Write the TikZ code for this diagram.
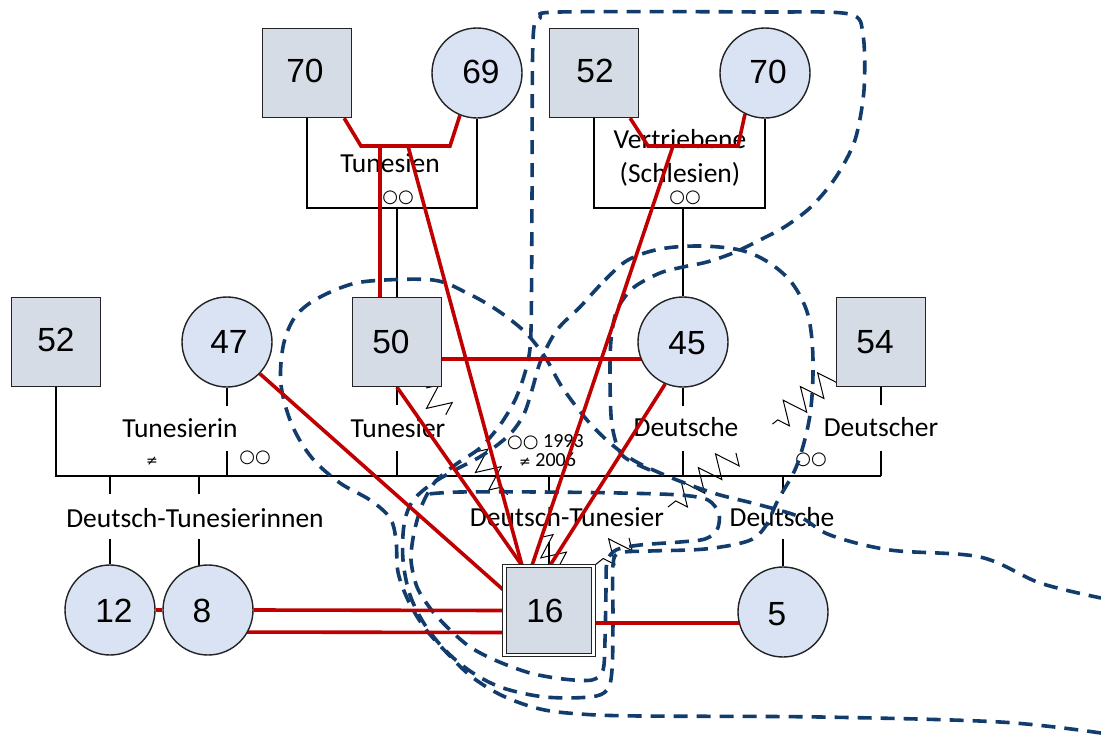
\documentclass[tikz,border=0pt]{standalone}
\usepackage{fontspec}
\setmainfont{Carlito}
\newfontfamily\numfont{Liberation Sans}
\newfontfamily\symfont{DejaVu Sans}
\usetikzlibrary{calc,decorations.pathmorphing}
\definecolor{sqfill}{RGB}{214,220,229}
\definecolor{cifill}{RGB}{218,227,243}
\definecolor{relred}{RGB}{192,0,0}
\definecolor{grpblue}{RGB}{18,60,108}
\definecolor{edgec}{RGB}{35,35,35}
\pgfdeclarelayer{bg}
\pgfsetlayers{bg,main}
\begin{document}
\begin{tikzpicture}[x=1pt,y=-1pt,
  sqbox/.style={rectangle,draw=edgec,line width=1.4pt,fill=sqfill,minimum size=89pt,inner sep=0pt},
  sqdouble/.style={rectangle,draw=edgec,line width=1pt,double=white,double distance=2.2pt,fill=sqfill,minimum size=89pt,inner sep=0pt},
  cibox/.style={circle,draw=edgec,line width=1.4pt,fill=cifill,minimum size=90pt,inner sep=0pt},
  num/.style={font=\numfont\fontsize{33.5}{38}\selectfont,inner sep=0pt},
  lbl/.style={font=\fontsize{27.5}{32}\selectfont,inner sep=0pt,anchor=base},
  sml/.style={font=\fontsize{20}{22}\selectfont,inner sep=0pt},
  rings/.style={font=\symfont\fontsize{18}{20}\selectfont,inner sep=0pt},
  neq/.style={font=\symfont\fontsize{14}{16}\selectfont,inner sep=0pt},
  kin/.style={draw=black,line width=1.4pt},
  rel/.style={draw=relred,line width=3.6pt},
  grp/.style={draw=grpblue,line width=3.6pt,dash pattern=on 14pt off 9pt},
  conflict/.style={draw=black,line width=1pt,decorate,decoration={zigzag,amplitude=12pt,segment length=22pt}}]
\useasboundingbox (0,0) rectangle (1101,736);

% ---------- persons ----------
\node[sqbox] (g70) at (307,73) {};
\node[cibox] (g69) at (477,73) {};
\node[sqbox] (g52t) at (594,73) {};
\node[cibox] (g70t) at (765,73) {};
\node[sqbox] (g52l) at (56,342) {};
\node[cibox] (g47) at (227,342) {};
\node[sqbox] (g50) at (397,342) {};
\node[cibox] (g45) at (683,342) {};
\node[sqbox] (g54) at (881,342) {};
\node[cibox] (g12) at (110,610) {};
\node[cibox] (g8) at (208,610) {};
\node[sqdouble] (g16) at (549,610.5) {};
\node[cibox] (g5) at (783,612) {};

\node[num] at (305,71) {70};
\node[num] at (481,72) {69};
\node[num] at (595,71) {52};
\node[num] at (768,72) {70};
\node[num] at (56,340) {52};
\node[num] at (229,342) {47};
\node[num] at (391,342) {50};
\node[num] at (687,343) {45};
\node[num] at (875,342) {54};
\node[num] at (114,611) {12};
\node[num] at (202,611) {8};
\node[num] at (545,611) {16};
\node[num] at (777,614) {5};

% ---------- helper coordinates ----------
\coordinate (mTy) at (0,208);
\coordinate (bar) at (0,476);
\coordinate (c8) at (199,0);
\coordinate (tA) at (361,146);
\coordinate (tB) at (450,146);
\coordinate (tC) at (380,146);
\coordinate (tD) at (408,146);
\coordinate (vA) at (648,146);
\coordinate (vB) at (738,146);
\coordinate (vC) at (673,146);
\coordinate (z1a) at (426,388);
\coordinate (z1b) at (562,566);
\coordinate (z2a) at (838,372);
\coordinate (z2b) at (595,565);

\begin{pgfonlayer}{bg}
\fill[white] (0,0) rectangle (1101,736);
% ---------- kinship lines ----------
\draw[kin] (g70.south) -- (g70.south |- mTy) -- (g69.south |- mTy) -- (g69.south);
\draw[kin] (g50.north |- mTy) -- (g50.north);
\draw[kin] (g52t.south) -- (g52t.south |- mTy) -- (g70t.south |- mTy) -- (g70t.south);
\draw[kin] (g45.north |- mTy) -- (g45.north);
\draw[kin] (g52l.south) -- (g52l.south |- bar) -- (g54.south |- bar);
\foreach \p in {g47,g50,g45,g54}{
  \draw[kin] (\p.south) -- ++(0,18);
  \draw[kin] (\p.south |- bar) -- ++(0,-25);
}
\draw[kin] (g12.north |- bar) -- ++(0,18);
\draw[kin] (g12.north) -- ++(0,-25);
\draw[kin] (c8 |- bar) -- ++(0,18);
\draw[kin] ($(c8 |- g8.north)+(0,4)$) -- ++(0,-29);
\draw[kin] (g16.north |- bar) -- ++(0,18);
\draw[kin] (g16.north) -- ++(0,-24);
\draw[kin] (g5.north |- bar) -- ++(0,18);
\draw[kin] (g5.north) -- ++(0,-27);

% ---------- labels ----------
\node[lbl] (lTun) at (390,172) {Tunesien};
\node[lbl] (lVer) at (680,148) {Vertriebene};
\node[lbl] (lSch) at (680,182) {(Schlesien)};
\node[lbl] (lTuin) at (180,437) {Tunesierin};
\node[lbl] (lTuer) at (398,437) {Tunesier};
\node[lbl] (lDe1) at (686,436) {Deutsche};
\node[lbl] (lDer) at (881,436) {Deutscher};
\node[lbl] (lDTi) at (195,527) {Deutsch-Tunesierinnen};
\node[lbl] (lDT) at (567,526) {Deutsch-Tunesier};
\node[lbl] (lDe2) at (782,526) {Deutsche};
\node[rings] (r1) at (398,197.5) {○○};
\node[rings] (r2) at (685,197.5) {○○};
\node[rings] (r3) at (255,458) {○○};
\node[rings] (r4) at (811,460) {○○};
\node[neq] (n1) at (152,461) {≠};
\node[sml,anchor=base west] (d1) at (507,447) {{\symfont\fontsize{18}{20}\selectfont ○○} 1993};
\node[sml,anchor=base west] (d2) at (519,466) {{\symfont\fontsize{14}{16}\selectfont ≠} 2006};

% ---------- conflict (zigzag) lines ----------
\draw[conflict] ($(z1a)!0!(z1b)$) -- ($(z1a)!0.15!(z1b)$);
\draw[conflict] ($(z1a)!0.36!(z1b)$) -- ($(z1a)!0.6!(z1b)$);
\draw[conflict] ($(z1a)!0.84!(z1b)$) -- ($(z1a)!1!(z1b)$);
\draw[conflict] ($(z2a)!0!(z2b)$) -- ($(z2a)!0.27!(z2b)$);
\draw[conflict] ($(z2a)!0.42!(z2b)$) -- ($(z2a)!0.7!(z2b)$);
\draw[conflict] ($(z2a)!0.86!(z2b)$) -- ($(z2a)!1!(z2b)$);

% ---------- group boundaries (dashed) ----------
\draw[grp] plot[smooth,tension=0.55] coordinates {
 (1101,733) (1000,722) (820,717) (640,716) (580,714) (540,709) (503,696) (472,677)
 (447,653) (424,627) (408,600) (398,572) (396,540) (390,518) (370,500) (340,483)
 (312,458) (292,425) (281,385) (283,347) (293,320) (310,303) (340,288) (370,281)
 (433,280) (467,293) (497,310) (525,332) (545,357) (562,387) (587,420) (610,443)
 (633,460) (660,473) (690,485) (720,495) (760,505) (800,517) (830,535) (890,550)
 (980,557) (1040,583) (1101,598)};
\draw[grp] plot[smooth,tension=0.5] coordinates {
 (650,470) (622,455) (612,425) (610,380) (611,340) (617,310) (633,288) (660,273)
 (683,267) (707,262) (733,253) (760,240) (786,226) (812,206) (836,177) (855,140)
 (864,90) (863,35) (849,14) (760,12) (560,12) (540,18) (533,40)
 (532,200) (531,330) (527,365) (516,398) (500,425) (480,448) (455,465) (435,482)
 (422,505) (414,533) (411,560) (417,587) (430,608) (447,627) (470,647) (497,661)
 (530,673) (563,679) (592,680) (603,670) (605,640) (606,590) (607,562) (616,550)
 (640,545) (680,542) (705,539) (717,530) (719,514) (708,500) (680,495) (620,493)
 (540,492) (460,492) (428,494)};
\draw[grp] plot[smooth cycle,tension=0.55] coordinates {
 (580,307) (605,280) (628,260) (660,249) (700,246) (740,250) (768,262) (792,283)
 (808,315) (813,360) (810,415) (797,465) (778,500) (765,527) (748,541) (705,549)
 (650,551) (620,553) (613,565) (613,620) (612,670) (607,690) (590,697) (545,697)
 (503,688) (473,673) (447,652) (425,625) (410,595) (403,560) (404,525) (412,502)
 (430,485) (455,470) (478,458) (496,446) (512,432) (524,414) (532,390) (541,360)
 (557,330)};

% ---------- relationship lines (red) ----------
\draw[rel,line join=miter] ($(g70.south east)+(-8,0)$) -- (tA) -- (tB) -- (g69.248);
\draw[rel,line join=miter] ($(g52t.south east)+(-9,0)$) -- (vA) -- (vB) -- (g70t.244);
\draw[rel] (tC) -- (tC |- g50.north);
\draw[rel] (tD) -- ($(g16.north)+(-27,0)$);
\draw[rel] (vC) -- ($(g16.north)+(-17,0)$);
\draw[rel] (g50.south) -- ($(g16.north)+(-27,0)$);
\draw[rel] (g45.247) -- ($(g16.north)+(1,0)$);
\draw[rel] (g47.-44) -- ($(g16.west)+(0,-20)$);
\draw[rel] ($(g50.east)+(0,17)$) -- ($(g45.center)+(0,17)$);
\draw[rel] (g12.east) -- (g8.west);
\draw[rel] (g8.east) -- (g16.west);
\draw[rel] ($(g8.center)+(0,22)$) -- ($(g16.west)+(0,22)$);
\draw[rel] ($(g16.east)+(0,12.5)$) -- ($(g5.center)+(0,11)$);
\end{pgfonlayer}
\end{tikzpicture}
\end{document}
